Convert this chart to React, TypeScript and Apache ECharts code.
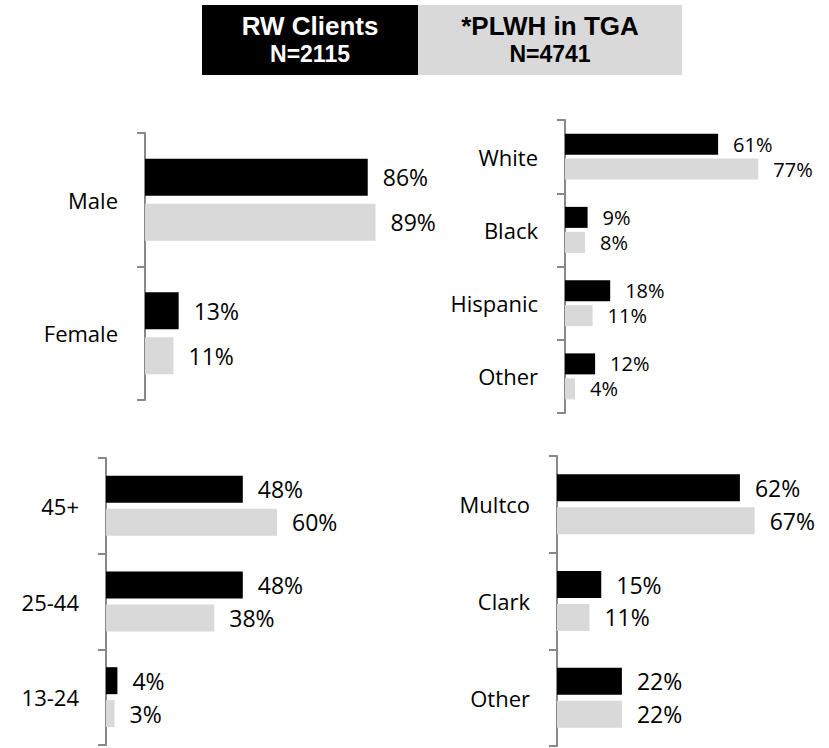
import React, { useEffect, useRef } from "react";
import * as echarts from "echarts";

const genderCats = ["Male", "Female"];
const genderRW = [86, 13];
const genderPLWH = [89, 11];

const raceCats = ["White", "Black", "Hispanic", "Other"];
const raceRW = [61, 9, 18, 12];
const racePLWH = [77, 8, 11, 4];

const ageCats = ["45+", "25-44", "13-24"];
const ageRW = [48, 48, 4];
const agePLWH = [60, 38, 3];

const countyCats = ["Multco", "Clark", "Other"];
const countyRW = [62, 15, 22];
const countyPLWH = [67, 11, 22];

const legendNames = ["RW Clients", "*PLWH in TGA"];
const legendNs = ["N=2115", "N=4741"];

const BLACK = "#000000";
const GREY = "#d9d9d9";
const AXIS = "#888888";
const FONT = "'Open Sans', 'Noto Sans', sans-serif";
const HFONT = "'Liberation Sans', Arial, sans-serif";

const W = 829;
const H = 748;

type Panel = {
  cats: string[];
  rw: number[];
  plwh: number[];
  left: number;
  top: number;
  height: number;
  per100: number;
  barWidth: number;
  barGap: string;
  valueSize: number;
  catSize: number;
};

const panels: Panel[] = [
  { cats: genderCats, rw: genderRW, plwh: genderPLWH, left: 145, top: 133, height: 267, per100: 259, barWidth: 37, barGap: "22%", valueSize: 23, catSize: 22 },
  { cats: raceCats, rw: raceRW, plwh: racePLWH, left: 565, top: 120, height: 293, per100: 251, barWidth: 21, barGap: "19%", valueSize: 20, catSize: 22 },
  { cats: ageCats, rw: ageRW, plwh: agePLWH, left: 106, top: 458, height: 287, per100: 285, barWidth: 27, barGap: "22%", valueSize: 23, catSize: 22 },
  { cats: countyCats, rw: countyRW, plwh: countyPLWH, left: 557, top: 456, height: 290, per100: 295, barWidth: 27, barGap: "22%", valueSize: 23, catSize: 22 },
];

export default function App() {
  const ref = useRef<HTMLDivElement>(null);
  useEffect(() => {
    if (!ref.current) return;
    const chart = echarts.init(ref.current, undefined, { renderer: "svg" });
    const widths = panels.map((p) => Math.min(p.per100, W - p.left - 10));
    const grid = panels.map((p, i) => ({
      left: p.left,
      top: p.top,
      width: widths[i],
      height: p.height,
      containLabel: false,
    }));
    const xAxis = panels.map((p, i) => ({
      type: "value",
      gridIndex: i,
      min: 0,
      max: (widths[i] / p.per100) * 100,
      show: false,
    }));
    const yAxis = panels.map((p, i) => ({
      type: "category",
      gridIndex: i,
      inverse: true,
      data: p.cats,
      axisLine: { show: true, lineStyle: { color: AXIS, width: 2 } },
      axisTick: { show: true, length: 8, lineStyle: { color: AXIS, width: 2 } },
      axisLabel: { margin: 27, fontSize: p.catSize, color: "#000", fontFamily: FONT },
      splitLine: { show: false },
    }));
    const series: any[] = [];
    panels.forEach((p, i) => {
      [p.rw, p.plwh].forEach((d, k) => {
        series.push({
          type: "bar",
          name: legendNames[k],
          xAxisIndex: i,
          yAxisIndex: i,
          data: d,
          barWidth: p.barWidth,
          barGap: p.barGap,
          itemStyle: { color: k === 0 ? BLACK : GREY },
          label: {
            show: true,
            position: "right",
            distance: 15,
            formatter: "{c}%",
            fontSize: p.valueSize,
            color: "#000",
            fontFamily: FONT,
          },
        });
      });
    });
    const graphic = [
      { type: "rect", shape: { x: 202, y: 5, width: 216, height: 70 }, style: { fill: BLACK } },
      { type: "rect", shape: { x: 418, y: 5, width: 264, height: 70 }, style: { fill: GREY } },
      { type: "text", x: 310, y: 25.5, style: { text: legendNames[0], fill: "#fff", font: `bold 26px ${HFONT}`, textAlign: "center", textVerticalAlign: "middle" } },
      { type: "text", x: 310, y: 53.5, style: { text: legendNs[0], fill: "#fff", font: `bold 23px ${HFONT}`, textAlign: "center", textVerticalAlign: "middle" } },
      { type: "text", x: 550, y: 25.5, style: { text: legendNames[1], fill: "#000", font: `bold 26px ${HFONT}`, textAlign: "center", textVerticalAlign: "middle" } },
      { type: "text", x: 550, y: 53.5, style: { text: legendNs[1], fill: "#000", font: `bold 23px ${HFONT}`, textAlign: "center", textVerticalAlign: "middle" } },
    ];
    chart.setOption({
      animation: false,
      backgroundColor: "#ffffff",
      grid,
      xAxis,
      yAxis,
      series,
      graphic,
    } as any);
    return () => chart.dispose();
  }, []);
  return (
    <div
      ref={ref}
      style={{ position: "fixed", left: 0, top: 0, width: W, height: H }}
    />
  );
}
